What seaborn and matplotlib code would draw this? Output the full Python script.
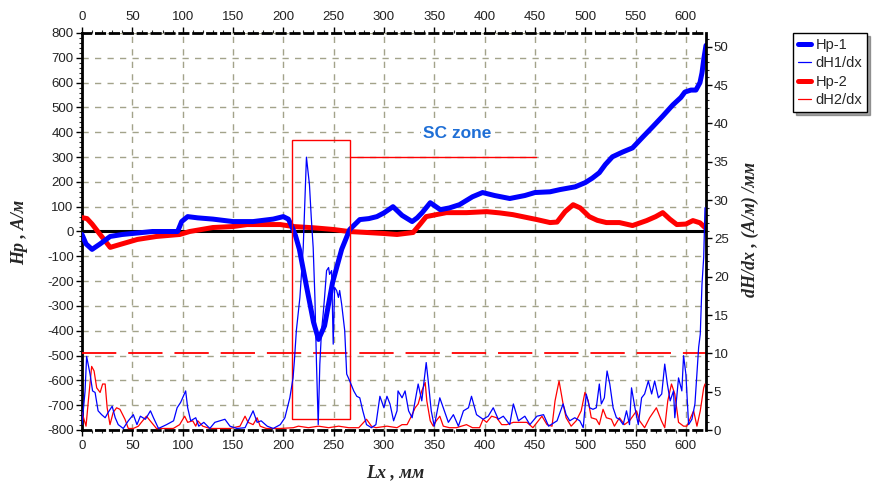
import numpy as np
import pandas as pd
import matplotlib
matplotlib.use("Agg")
import matplotlib.pyplot as plt
from matplotlib.lines import Line2D
from matplotlib.patches import Rectangle
from matplotlib.ticker import MultipleLocator
import seaborn as sns

# ---------------- data ----------------
hp1_x = [0, 4, 10, 18, 28, 40, 50, 70, 95, 99, 105, 115, 130, 150, 170, 190, 200, 205, 208, 212, 216,
         223, 230, 235, 241, 249, 258, 266, 276, 285, 293, 300, 309, 318, 328, 333, 338, 346, 356, 365,
         375, 388, 398, 410, 425, 440, 450, 465, 475, 490, 500, 507, 514, 520, 527, 537, 547, 557, 567,
         577, 587, 595, 599, 605, 610, 614, 616, 618, 620]
hp1_y = [-12, -50, -72, -50, -20, -12, -8, 0, 0, 40, 60, 55, 50, 40, 40, 50, 60, 50, 25, -15, -72,
         -220, -365, -435, -380, -205, -72, 8, 48, 52, 60, 75, 100, 65, 40, 55, 76, 116, 88, 95,
         108, 140, 157, 145, 133, 145, 157, 160, 169, 180, 197, 215, 237, 270, 301, 320, 337, 380, 422,
         465, 510, 540, 562, 570, 570, 600, 639, 700, 750]

hp2_x = [0, 5, 10, 18, 28, 38, 55, 74, 97, 107, 130, 150, 164, 177, 197, 210, 230, 250, 265, 283,
         300, 313, 329, 336, 342, 362, 382, 402, 415, 428, 440, 452, 465, 472, 480, 488, 495, 504,
         512, 521, 534, 547, 561, 570, 577, 584, 591, 600, 607, 614, 619]
hp2_y = [56, 52, 30, -12, -64, -52, -32, -20, -12, 0, 16, 20, 28, 28, 28, 20, 15, 8, 0, -4,
         -8, -12, -4, 30, 60, 76, 76, 80, 75, 68, 58, 48, 36, 38, 80, 108, 95, 60,
         45, 36, 36, 24, 44, 60, 76, 50, 28, 30, 44, 35, 16]

dh1_x = [0, 3, 4.6, 8, 10.5, 13, 16, 19.5, 23, 26, 30, 33, 36, 41, 46, 51, 54.6, 58, 63, 68, 71, 76,
         84, 91, 94.5, 98, 103, 105, 108, 113, 116, 121, 127, 132, 137, 142, 147, 154, 162, 170, 174,
         178, 184, 190, 197, 201.6, 206.5, 209.7, 211, 213, 216.5, 219.8, 223, 224.8, 226, 227.8,
         229.7, 231.4, 233, 234.7, 236.3, 238, 239.6, 241, 243, 245, 246, 248, 249.6, 251, 253, 254.8,
         256, 258, 261, 263, 266, 270, 273, 276, 279, 282.7, 287.6, 292, 296, 300, 303, 306, 309.6,
         313, 314, 318, 321, 324.5, 328, 331, 334, 337.6, 342, 344, 347, 350, 355.5, 359, 364, 369,
         374, 379, 384, 387, 392, 398.5, 403.6, 408.6, 413.6, 418.6, 425, 428.6, 433.6, 440, 445, 452,
         458.6, 463.6, 472, 478, 481, 484.6, 489.6, 494.6, 498, 501, 504.4, 507.7, 511, 514, 516, 519,
         521.7, 524.4, 527.7, 531, 534, 537.7, 541, 544, 546, 549.4, 552.7, 556, 559, 562.7, 566, 569,
         572.7, 576, 579, 581.6, 584.4, 587.7, 589, 592.7, 596, 597.7, 600, 602.7, 606, 609, 612.7,
         614.3, 616, 617.7, 619]
dh1_y = [0.7, 5, 9.6, 7.3, 5.1, 4.9, 2.5, 2, 1.6, 2.3, 3.1, 1.6, 0.7, 0.2, 1.2, 2, 0.7, 1.8, 1.4, 2.5,
         1.6, 0.2, 0.7, 1.2, 2.9, 3.6, 5.1, 2.9, 1.2, 1.6, 0.5, 1, 0.2, 1, 1.2, 1.4, 0.5, 0.2, 0.3, 2.5,
         1, 1.2, 0.5, 0.2, 0.7, 1.6, 4.2, 6.8, 9, 13, 17.3, 23.8, 35.6, 33.4, 32, 27.7, 23.8, 17.3, 8.6,
         0.7, 8.6, 13, 15.1, 17.3, 20.8, 21.2, 20.3, 20.8, 11.2, 18.6, 18.2, 17.3, 18.2, 16.4, 13, 7.3,
         6.4, 5.1, 4.4, 4.2, 2.5, 0.7, 0.3, 0.7, 4.4, 2.9, 4.4, 3.4, 1.2, 2.5, 5.1, 4.2, 5.1, 2.5, 1.6,
         3.8, 6, 3.8, 8.8, 6.4, 2.5, 0.5, 4.2, 2.9, 1, 2, 0.5, 2.5, 2.9, 4.4, 2, 1.4, 1.8, 2.9, 1.4, 1.8,
         0.7, 3.4, 1.2, 1.8, 0.7, 1.8, 2, 0.5, 1.2, 3.4, 2, 1.2, 1.6, 1.2, 0.3, 4.7, 2.9, 2.7, 2.9, 6,
         3.4, 4.2, 7.7, 6, 2.9, 1.6, 1.4, 0.7, 2.5, 0.7, 5.5, 2.9, 0.7, 4.2, 4.7, 6.4, 4.7, 6.4, 4.2,
         4.7, 8.6, 6, 3.8, 5.1, 1.6, 6.8, 5.1, 9.7, 7.3, 0.7, 1.4, 3.4, 10.8, 12.5, 19, 22.5, 29]

dh2_x = [0, 4, 6.3, 9.6, 12, 14.6, 18, 20.5, 23, 25, 27.8, 31, 34.4, 37.7, 42.7, 46, 51, 56, 59, 64,
         69, 74, 82, 90.7, 97, 102, 105, 110, 113, 115, 120, 127, 137, 147, 157, 162, 165, 170, 174,
         177, 183, 197, 210, 215, 225, 235, 245, 255, 265, 275, 282.7, 287.6, 292, 303, 313, 318, 323,
         328, 331, 334, 337.6, 341, 342.6, 346, 349, 352, 355.5, 359, 365, 372, 382, 388, 395, 398.5,
         402, 407, 412, 417, 422, 428.6, 442, 448, 457, 462, 467, 470, 474, 478, 481, 486, 491, 496,
         499.7, 503, 506, 511, 514, 517.7, 521, 526, 529, 534, 539, 544, 551, 554, 559, 564, 570.7,
         575.7, 579, 582, 585.7, 589, 592.7, 597.7, 601, 604, 607.7, 611, 614.3, 617.7, 619]
dh2_y = [2.3, 0.5, 3.8, 8.3, 7.7, 5.5, 4.9, 6, 6, 2.9, 0.7, 2.3, 2.9, 2.7, 1.4, 0.2, 0.2, 0.5, 1, 1.8,
         1, 0.2, 0.2, 0.2, 0.7, 1.8, 1, 1.2, 0.5, 1.2, 0.5, 0.2, 0.2, 0.2, 0.5, 1.8, 1, 0.7, 1.6,
         0.5, 0.2, 0.2, 0.3, 0.5, 0.3, 0.5, 0.3, 0.5, 0.3, 0.3, 1.4, 0.5, 0.3, 0.5, 0.3, 0.7, 0.7,
         2, 2.9, 3.4, 5.1, 6.2, 3.8, 1.2, 0.5, 1.2, 1.8, 0.5, 0.3, 0.3, 0.7, 0.3, 0.3, 1.4,
         1, 1.8, 1.6, 0.7, 0.7, 1, 1, 0.3, 1.8, 0.7, 0.5, 3.8, 6.4, 3.4, 1.6, 0.5, 1.2, 2.5,
         4.9, 3.8, 1.6, 1.4, 0.7, 2.7, 1.6, 1.4, 0.5, 1.6, 0.7, 1.2, 2.5, 1.2, 0.3, 1.6, 2.9,
         1.2, 0.3, 3.8, 6, 4.7, 1, 0.5, 0.5, 1.4, 2.5, 0.5, 2.5, 5.5, 6]

x_ticks = [0, 50, 100, 150, 200, 250, 300, 350, 400, 450, 500, 550, 600]
left_ticks = [-800, -700, -600, -500, -400, -300, -200, -100, 0, 100, 200, 300, 400, 500, 600, 700, 800]
right_ticks = [0, 5, 10, 15, 20, 25, 30, 35, 40, 45, 50]
legend_labels = ["Hp-1", "dH1/dx", "Hp-2", "dH2/dx"]
threshold = 10
sc_zone_x = [208.5, 266]
sc_zone_y = [-755, 370]
sc_line_x = [266, 451]
sc_line_y = 300
sc_label = "SC zone"
sc_label_pos = (373, 394)

# ---------------- style ----------------
sns.set_theme(style="white")
plt.rcParams['font.family'] = ['Liberation Sans', 'DejaVu Sans']
plt.rcParams['axes.unicode_minus'] = False

fig = plt.figure(figsize=(8.77, 4.90), dpi=100)
ax = fig.add_axes([82/877, 1-430/490, (705.5-82)/877, (430-33)/490])
ax2 = ax.twinx()

grid_color = '#a3a38a'
ax.set_xlim(0, 619.5)
ax.set_ylim(-800, 800)
ax2.set_ylim(0, 51.8)
ax.set_xticks(x_ticks)
ax.set_yticks(left_ticks)
ax2.set_yticks(right_ticks)
ax.xaxis.set_minor_locator(MultipleLocator(10))
ax.yaxis.set_minor_locator(MultipleLocator(20))
ax2.yaxis.set_minor_locator(MultipleLocator(1))
ax.grid(True, which='major', color=grid_color, linestyle=(0, (4.5, 4.5)), linewidth=1.0)
ax2.grid(False)

ax.axhline(0, color='black', lw=2.2, zorder=3)

sns.lineplot(x=hp1_x, y=hp1_y, ax=ax, color='#0000ff', lw=3.6, sort=False, estimator=None, zorder=4)
sns.lineplot(x=hp2_x, y=hp2_y, ax=ax, color='#ff0000', lw=3.6, sort=False, estimator=None, zorder=3.5)
sns.lineplot(x=dh2_x, y=dh2_y, ax=ax2, color='#ff0000', lw=0.9, sort=False, estimator=None, zorder=3)
sns.lineplot(x=dh1_x, y=dh1_y, ax=ax2, color='#0000ff', lw=0.9, sort=False, estimator=None, zorder=4)
ax2.axhline(threshold, color='#ff0000', lw=1.3, linestyle=(0, (19, 6.6)), zorder=2)

ax.add_patch(Rectangle((sc_zone_x[0], sc_zone_y[0]), sc_zone_x[1]-sc_zone_x[0], sc_zone_y[1]-sc_zone_y[0],
                       fill=False, edgecolor='#ff0000', lw=1.0, zorder=5))
ax.plot(sc_line_x, [sc_line_y, sc_line_y], color='#ff0000', lw=1.0, zorder=5)
ax.text(sc_label_pos[0], sc_label_pos[1], sc_label, color='#1f6fd6', fontsize=12.5,
        fontweight='bold', ha='center', va='center', zorder=6,
        bbox=dict(facecolor='white', edgecolor='none', pad=1.5))

ax.set_xlabel("")
ax.set_ylabel("")
ax2.set_ylabel("")

# spines
ax.spines['left'].set_linewidth(2.0)
ax.spines['left'].set_color('black')
for s in ['top', 'bottom']:
    ax.spines[s].set_linewidth(2.0)
    ax.spines[s].set_color('black')
    ax.spines[s].set_linestyle((0, (3, 2)))
ax.spines['right'].set_visible(False)
ax2.spines['right'].set_linewidth(2.0)
ax2.spines['right'].set_color('black')
for s in ['top', 'bottom', 'left']:
    ax2.spines[s].set_visible(False)

tick_kw = dict(labelsize=9.5, colors='black', labelcolor='#222222')
ax.tick_params(axis='x', which='major', top=True, labeltop=True, bottom=True, labelbottom=True,
               direction='out', length=4, width=1, pad=3, **tick_kw)
ax.tick_params(axis='x', which='minor', top=True, bottom=True, direction='out', length=2, width=0.8)
ax.tick_params(axis='y', which='major', left=True, direction='out', length=4, width=1, pad=2, **tick_kw)
ax.tick_params(axis='y', which='minor', left=True, direction='out', length=2, width=0.8)
ax2.tick_params(axis='y', which='major', right=True, direction='out', length=4, width=1, pad=2, **tick_kw)
ax2.tick_params(axis='y', which='minor', right=True, direction='out', length=2, width=0.8)

label_font = dict(family=['Liberation Serif', 'DejaVu Serif'], style='italic', weight='bold', size=13)
fig.text(20/877, 1-232/490, "Hp , A/м", rotation=90, ha='center', va='center', **label_font)
fig.text(750/877, 1-229/490, "dH/dx , (A/м) /мм", rotation=90, ha='center', va='center', **label_font)
fig.text(395/877, 1-473/490, "Lx , мм", ha='center', va='center', **label_font)

handles = [Line2D([], [], color='#0000ff', lw=3.6),
           Line2D([], [], color='#0000ff', lw=0.9),
           Line2D([], [], color='#ff0000', lw=3.6),
           Line2D([], [], color='#ff0000', lw=0.9)]
leg = fig.legend(handles, legend_labels, loc='upper left', bbox_to_anchor=(793/877, 1-33/490),
                 frameon=True, fancybox=False, shadow=True, fontsize=10.5, handlelength=0.9,
                 handletextpad=0.3, borderpad=0.35, labelspacing=0.3, borderaxespad=0)
leg.get_frame().set_edgecolor('black')
leg.get_frame().set_linewidth(1.0)

fig.savefig("out.png", dpi=100)
